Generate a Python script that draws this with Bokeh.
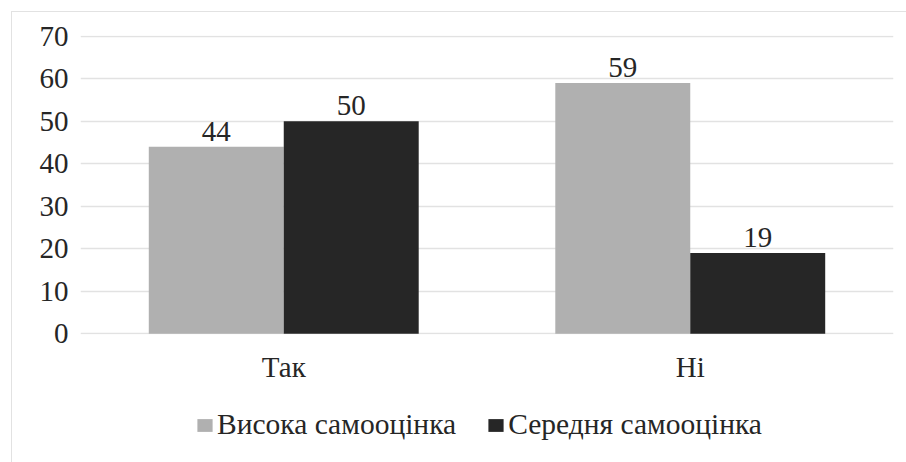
from bokeh.plotting import figure
from bokeh.layouts import column
from bokeh.models import (Range1d, FactorRange, FixedTicker, ColumnDataSource,
                          Legend, LegendItem)
from bokeh.transform import dodge
from bokeh.core.properties import value
from bokeh.embed import file_html
from bokeh.resources import INLINE

categories = ["Так", "Ні"]
high_self_esteem = [44, 59]
medium_self_esteem = [50, 19]
series_names = ["Висока самооцінка", "Середня самооцінка"]
y_ticks = [0, 10, 20, 30, 40, 50, 60, 70]

FONT = "Liberation Serif"
FS = "29px"
TEXT = "#262626"
GRAY = "#b0b0b0"
DARK = "#262626"
COLORS = [GRAY, DARK]
BAR_W = 0.332

src = ColumnDataSource(dict(cat=categories, high=high_self_esteem, mid=medium_self_esteem,
                            high_lbl=[str(v) for v in high_self_esteem],
                            mid_lbl=[str(v) for v in medium_self_esteem]))

# --- bar chart -------------------------------------------------------------
p = figure(width=894, height=383, x_range=FactorRange(*categories, range_padding=0),
           y_range=Range1d(-0.15, 70.15), output_backend="svg", toolbar_location=None,
           min_border_left=68, min_border_right=13, min_border_top=23, min_border_bottom=61)
p.outline_line_color = None
p.background_fill_color = "white"
p.border_fill_color = "white"

p.vbar(x=dodge("cat", -BAR_W / 2, range=p.x_range), top="high", width=BAR_W,
       source=src, fill_color=GRAY, line_color=None)
p.vbar(x=dodge("cat", BAR_W / 2, range=p.x_range), top="mid", width=BAR_W,
       source=src, fill_color=DARK, line_color=None)

# value labels sit a few pixels above each bar
for col, lbl, off in (("high", "high_lbl", -BAR_W / 2), ("mid", "mid_lbl", BAR_W / 2)):
    p.text(x=dodge("cat", off, range=p.x_range), y=col, text=lbl, source=src,
           text_align="center", text_baseline="bottom", y_offset=-6,
           text_font=value(FONT), text_font_size=FS, text_color=TEXT)

p.yaxis.ticker = FixedTicker(ticks=y_ticks)
p.ygrid.ticker = FixedTicker(ticks=y_ticks)
p.xgrid.grid_line_color = None
p.ygrid.grid_line_color = "#e2e2e2"
p.ygrid.grid_line_width = 1.6

for ax in (p.xaxis, p.yaxis):
    ax.axis_line_color = None
    ax.major_tick_line_color = None
    ax.minor_tick_line_color = None
    ax.major_tick_out = 0
    ax.major_tick_in = 0
    ax.major_label_text_font = FONT
    ax.major_label_text_font_size = FS
    ax.major_label_text_color = TEXT
p.yaxis.major_label_standoff = 12
p.xaxis.major_label_standoff = 16

# --- legend strip under the chart (frame edges line up with the chart's) -----
lg = figure(width=894, height=67, x_range=Range1d(0, 1), y_range=Range1d(0, 1),
            x_axis_type=None, y_axis_type=None, output_backend="svg",
            toolbar_location=None, min_border=0)
lg.outline_line_color = None
lg.grid.visible = False
# zero-size bars that only carry the swatch colours for the legend
swatches = [lg.vbar(x=[0.5], top=[0], bottom=[0], width=0, fill_color=c, line_color=None)
            for c in COLORS]

legend = Legend(items=[LegendItem(label=name, renderers=[r])
                       for name, r in zip(series_names, swatches)],
                orientation="horizontal", location=(115, 21),
                label_text_font=FONT, label_text_font_size="29.5px", label_text_color=TEXT,
                glyph_width=19, glyph_height=16, label_standoff=3, spacing=30,
                padding=0, margin=0, border_line_color=None, background_fill_alpha=0)
lg.add_layout(legend, "center")

page = column(p, lg, spacing=0,
              styles={"margin-left": "11px", "margin-top": "11px",
                      "border-left": "1px solid #e2e2e2", "border-top": "1px solid #e2e2e2"})

open("out.html", "w").write(file_html(page, INLINE))
